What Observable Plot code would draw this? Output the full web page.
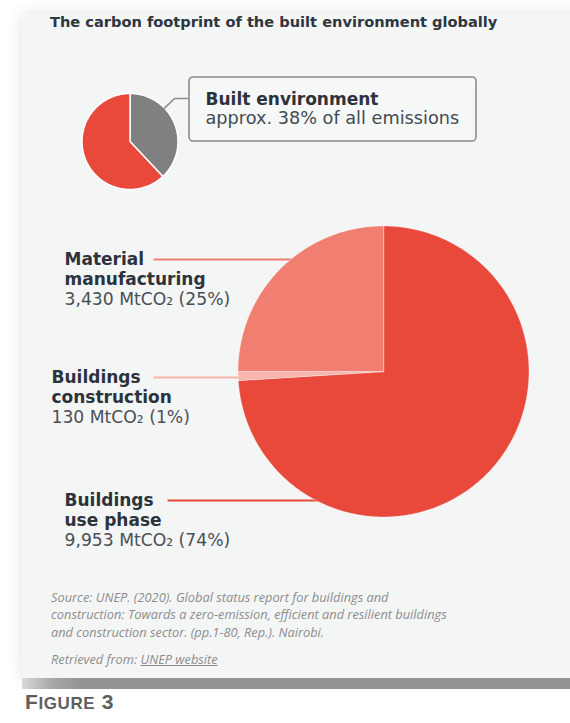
<!DOCTYPE html>
<html>
<head>
<meta charset="utf-8">
<script src="https://cdn.jsdelivr.net/npm/d3@7"></script>
<script src="https://cdn.jsdelivr.net/npm/@observablehq/plot@0.6"></script>
<style>
  html, body { margin: 0; padding: 0; }
  body { width: 570px; height: 723px; overflow: hidden; position: relative; background: #fff; }
  #card { position: absolute; left: 22px; top: 14px; width: 560px; height: 664px; background: #f4f5f5;
          box-shadow: 0 0 14px rgba(0,0,0,0.13); }
  #title { position: absolute; left: 50px; top: 14px; font-family: "DejaVu Sans", sans-serif; font-weight: bold;
           font-size: 14.6px; line-height: 15px; color: #2e3640; white-space: nowrap; }
  #chart { position: absolute; left: 22px; top: 36px; }
  #caption { position: absolute; left: 51px; top: 589px; font-family: "Open Sans", sans-serif; font-style: italic;
             font-size: 12.8px; line-height: 17.4px; color: #8d8d8d; white-space: nowrap; }
  #caption p { margin: 0; }
  #caption p + p { margin-top: 9.5px; }
  #caption u { text-decoration: underline; }
  #bar { position: absolute; left: 22px; top: 678px; width: 560px; height: 11px;
         background: linear-gradient(to right, #d9d9d9 0px, #a8a8a8 30px, #939393 60px, #939393 100%); }
  #fig { position: absolute; left: 25px; top: 690px; font-family: "Liberation Sans", Arial, sans-serif; font-weight: bold;
         font-size: 21px; line-height: 24px; color: #5e5e5e; letter-spacing: 0.6px; white-space: nowrap; }
  #fig .sc { font-size: 17px; }
</style>
</head>
<body>
<div id="card"></div>
<div id="title">The carbon footprint of the built environment globally</div>
<div id="chart"></div>
<div id="caption">
  <p>Source: UNEP. (2020). Global status report for buildings and<br>construction: Towards a zero-emission, efficient and resilient buildings<br>and construction sector. (pp.1-80, Rep.). Nairobi.</p>
  <p>Retrieved from: <u>UNEP website</u></p>
</div>
<div id="bar"></div>
<div id="fig">F<span class="sc">IGURE</span> 3</div>
<script>
// ---- data ----
const builtCategories = ["Built environment", "Other emissions"];
const builtShares = [38, 62];               // % of all emissions
const builtColors = ["#808080", "#e8493a"];
const builtTitle = "Built environment";
const builtSubtitle = "approx. 38% of all emissions";

const sectorCategories = ["Buildings use phase", "Buildings construction", "Material manufacturing"];
const sectorValues = [9953, 130, 3430];     // MtCO2
const sectorShares = [74, 1, 25];           // %
const sectorColors = ["#e8493a", "#f7b5ad", "#f17f71"];
const sectorNameLines = [["Buildings", "use phase"], ["Buildings", "construction"], ["Material", "manufacturing"]];

// ---- layout (page coordinates) ----
const W = 548, H = 548, X0 = 22, Y0 = 36;
const small = {cx: 129.5, cy: 141, r: 48};
const big = {cx: 383, cy: 371, r: 145.5};
const box = {x1: 189, x2: 476, y1: 77, y2: 141};
const labelPos = [
  {x: 64, y: 505, lineEnd: 167},   // use phase
  {x: 51, y: 382, lineEnd: 153},   // construction
  {x: 64, y: 264, lineEnd: 153}    // material
];

function piePolys(cats, shares, c) {
  const arcs = d3.pie().sort(null)(shares);
  const pts = [];
  arcs.forEach((a, i) => {
    pts.push({cat: cats[i], x: c.cx, y: c.cy});
    const n = Math.max(2, Math.ceil((a.endAngle - a.startAngle) / (Math.PI / 180)));
    for (let k = 0; k <= n; k++) {
      const t = a.startAngle + (a.endAngle - a.startAngle) * k / n;
      pts.push({cat: cats[i], x: c.cx + c.r * Math.sin(t), y: c.cy - c.r * Math.cos(t)});
    }
  });
  return pts;
}

const smallPts = piePolys(builtCategories, builtShares, small);
const bigPts = piePolys(sectorCategories, sectorShares, big);

// leader lines for the big pie: horizontal from label to pie edge
const leaders = sectorCategories.map((cat, i) => {
  const y = labelPos[i].y - 5;
  const dx = Math.sqrt(big.r * big.r - (y - big.cy) ** 2);
  return {cat, x1: labelPos[i].lineEnd, x2: big.cx - dx + 2, y};
});

// callout leader for small pie
const calloutAngle = 46 * Math.PI / 180;
const callout = [
  {x: box.x1, y: 98},
  {x: 174, y: 98},
  {x: small.cx + small.r * Math.sin(calloutAngle), y: small.cy - small.r * Math.cos(calloutAngle)}
];

const nameLabels = sectorCategories.map((cat, i) => ({cat, text: sectorNameLines[i].join("\n"), x: labelPos[i].x, y: labelPos[i].y + 20}));
const valueLabels = sectorCategories.map((cat, i) => ({
  cat, text: d3.format(",")(sectorValues[i]) + " MtCO\u2082 (" + sectorShares[i] + "%)",
  x: labelPos[i].x, y: labelPos[i].y + 40
}));

const font = "DejaVu Sans, sans-serif";

const chart = Plot.plot({
  width: W, height: H,
  margin: 0,
  x: {domain: [X0, X0 + W], range: [0, W], axis: null},
  y: {domain: [Y0, Y0 + H], range: [0, H], axis: null},
  color: {type: "ordinal", domain: [...builtCategories, ...sectorCategories], range: [...builtColors, ...sectorColors]},
  style: {background: "transparent", overflow: "visible"},
  marks: [
    // leader lines (big pie)
    Plot.link(leaders, {x1: "x1", x2: "x2", y1: "y", y2: "y", stroke: "cat", strokeWidth: 1.8}),
    // big pie
    Plot.line(bigPts, {x: "x", y: "y", z: "cat", fill: "cat", stroke: "#ffffff", strokeOpacity: 0.6, strokeWidth: 0.6, curve: "linear-closed"}),
    // small pie
    Plot.line(smallPts, {x: "x", y: "y", z: "cat", fill: "cat", stroke: "#ffffff", strokeWidth: 1.5, curve: "linear-closed"}),
    // callout leader
    Plot.line(callout, {x: "x", y: "y", stroke: "#8c8c8c", strokeWidth: 1.5}),
    // callout box
    Plot.rect([box], {x1: "x1", x2: "x2", y1: "y1", y2: "y2", rx: 4, fill: "#f6f7f7", stroke: "#8c8c8c", strokeWidth: 1.6}),
    Plot.text([builtTitle], {x: box.x1 + 16, y: 104, text: d => d, textAnchor: "start", lineAnchor: "bottom",
      fontFamily: font, fontWeight: "bold", fontSize: 17, fill: "#2d333b"}),
    Plot.text([builtSubtitle], {x: box.x1 + 16, y: 123.5, text: d => d, textAnchor: "start", lineAnchor: "bottom",
      fontFamily: font, fontSize: 17.7, fill: "#444b52"}),
    // big pie labels
    Plot.text(nameLabels, {x: "x", y: "y", text: "text", textAnchor: "start", lineAnchor: "bottom", lineHeight: 20 / 17,
      fontFamily: font, fontWeight: "bold", fontSize: 17, fill: "#2d333b"}),
    Plot.text(valueLabels, {x: "x", y: "y", text: "text", textAnchor: "start", lineAnchor: "bottom",
      fontFamily: font, fontSize: 17.2, fill: "#4a4f55"})
  ]
});
document.getElementById("chart").appendChild(chart);
</script>
</body>
</html>
